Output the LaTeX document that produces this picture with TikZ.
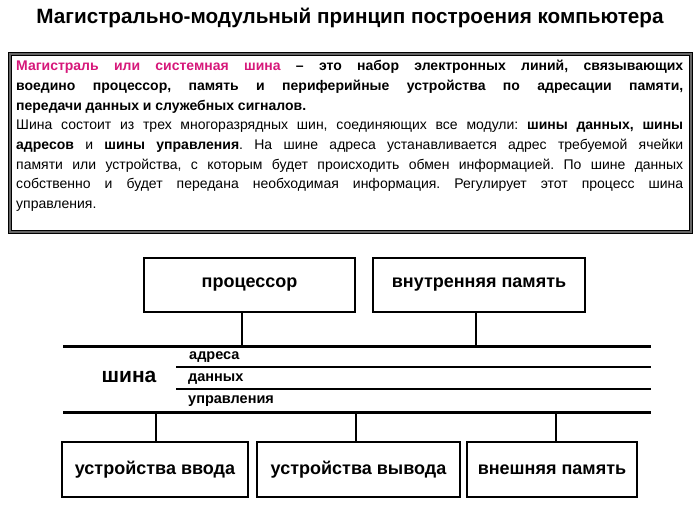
\documentclass[tikz,border=0pt]{standalone}
\usepackage{fontspec}
\setmainfont{Liberation Sans}
\usetikzlibrary{positioning}
\definecolor{magentaT}{RGB}{214,24,122}
\tikzset{
  unit/.style={draw,line width=2pt,font=\bfseries\fontsize{18}{20}\selectfont,minimum height=54pt,inner sep=0pt},
  busthick/.style={line width=3pt},
  busthin/.style={line width=1.4pt},
  link/.style={line width=2pt},
  buslabel/.style={font=\bfseries\fontsize{14.5}{15}\selectfont,anchor=west,inner sep=0pt}
}

\begin{document}
\begin{tikzpicture}[x=1pt,y=-1pt]
\useasboundingbox (0,0) rectangle (696,513);
% title and definition box
\node[font=\bfseries\fontsize{20.7}{24}\selectfont] (title) at (350,18) {Магистрально-модульный принцип построения компьютера};
\draw[line width=3pt,black!60] (9.5,53.5) rectangle (690.5,231.5);
\draw[line width=0.8pt] (8,52) rectangle (692,233);
\draw[line width=0.6pt] (11,55) rectangle (689,230);
\node[anchor=north west,text width=667pt,inner sep=0pt,align=justify,
  font=\fontsize{14}{19.7}\selectfont] (def) at (16,60) {%
  \hyphenpenalty=10000\emergencystretch=2em\parindent=0pt\frenchspacing
  {\bfseries{\color{magentaT}Магистраль или системная шина} – это набор электронных линий, связывающих\linebreak
  воедино процессор, память и периферийные устройства по адресации памяти,\linebreak
  передачи данных и служебных сигналов.\par}
  Шина состоит из трех многоразрядных шин, соединяющих все модули: \textbf{шины данных, шины}\linebreak
  \textbf{адресов} и \textbf{шины управления}. На шине адреса устанавливается адрес требуемой ячейки\linebreak
  памяти или устройства, с которым будет происходить обмен информацией. По шине данных\linebreak
  собственно и будет передана необходимая информация. Регулирует этот процесс шина\linebreak
  управления.};
% modules
\node[unit,minimum width=211pt] (cpu) at (249.5,285) {процессор};
\node[unit,minimum width=212pt] (mem) at (479,285) {внутренняя память};
\node[unit,minimum width=186pt,minimum height=55pt] (in) at (155,469.5) {устройства ввода};
\node[unit,minimum width=203pt,minimum height=55pt] (out) at (358.5,469.5) {устройства вывода};
\node[unit,minimum width=170pt,minimum height=55pt] (ext) at (552,469.5) {внешняя память};
% bus
\coordinate (topL) at (63,346);   \coordinate (topR) at (651,346);
\coordinate (addrL) at (176,367); \coordinate (addrR) at (651,367);
\coordinate (dataL) at (176,389); \coordinate (dataR) at (651,389);
\coordinate (botL) at (63,412);   \coordinate (botR) at (651,412);
\draw[busthick] (topL) -- (topR);
\draw[busthin] (addrL) -- (addrR);
\draw[busthin] (dataL) -- (dataR);
\draw[busthick] (botL) -- (botR);
\node[font=\bfseries\fontsize{21}{24}\selectfont] (bus) at (129,377) {шина};
\node[buslabel] (addr) at (189,357) {адреса};
\node[buslabel] (data) at (188,379) {данных};
\node[buslabel] (ctrl) at (188,401) {управления};
% taps
\coordinate (tapCpu) at (242,346);
\coordinate (tapMem) at (476,346);
\coordinate (tapIn) at (156,412);
\coordinate (tapOut) at (356,412);
\coordinate (tapExt) at (556,412);
\draw[link] (cpu.south -| tapCpu) -- (tapCpu);
\draw[link] (mem.south -| tapMem) -- (tapMem);
\draw[link] (tapIn) -- (tapIn |- in.north);
\draw[link] (tapOut) -- (tapOut |- out.north);
\draw[link] (tapExt) -- (tapExt |- ext.north);
\end{tikzpicture}
\end{document}
